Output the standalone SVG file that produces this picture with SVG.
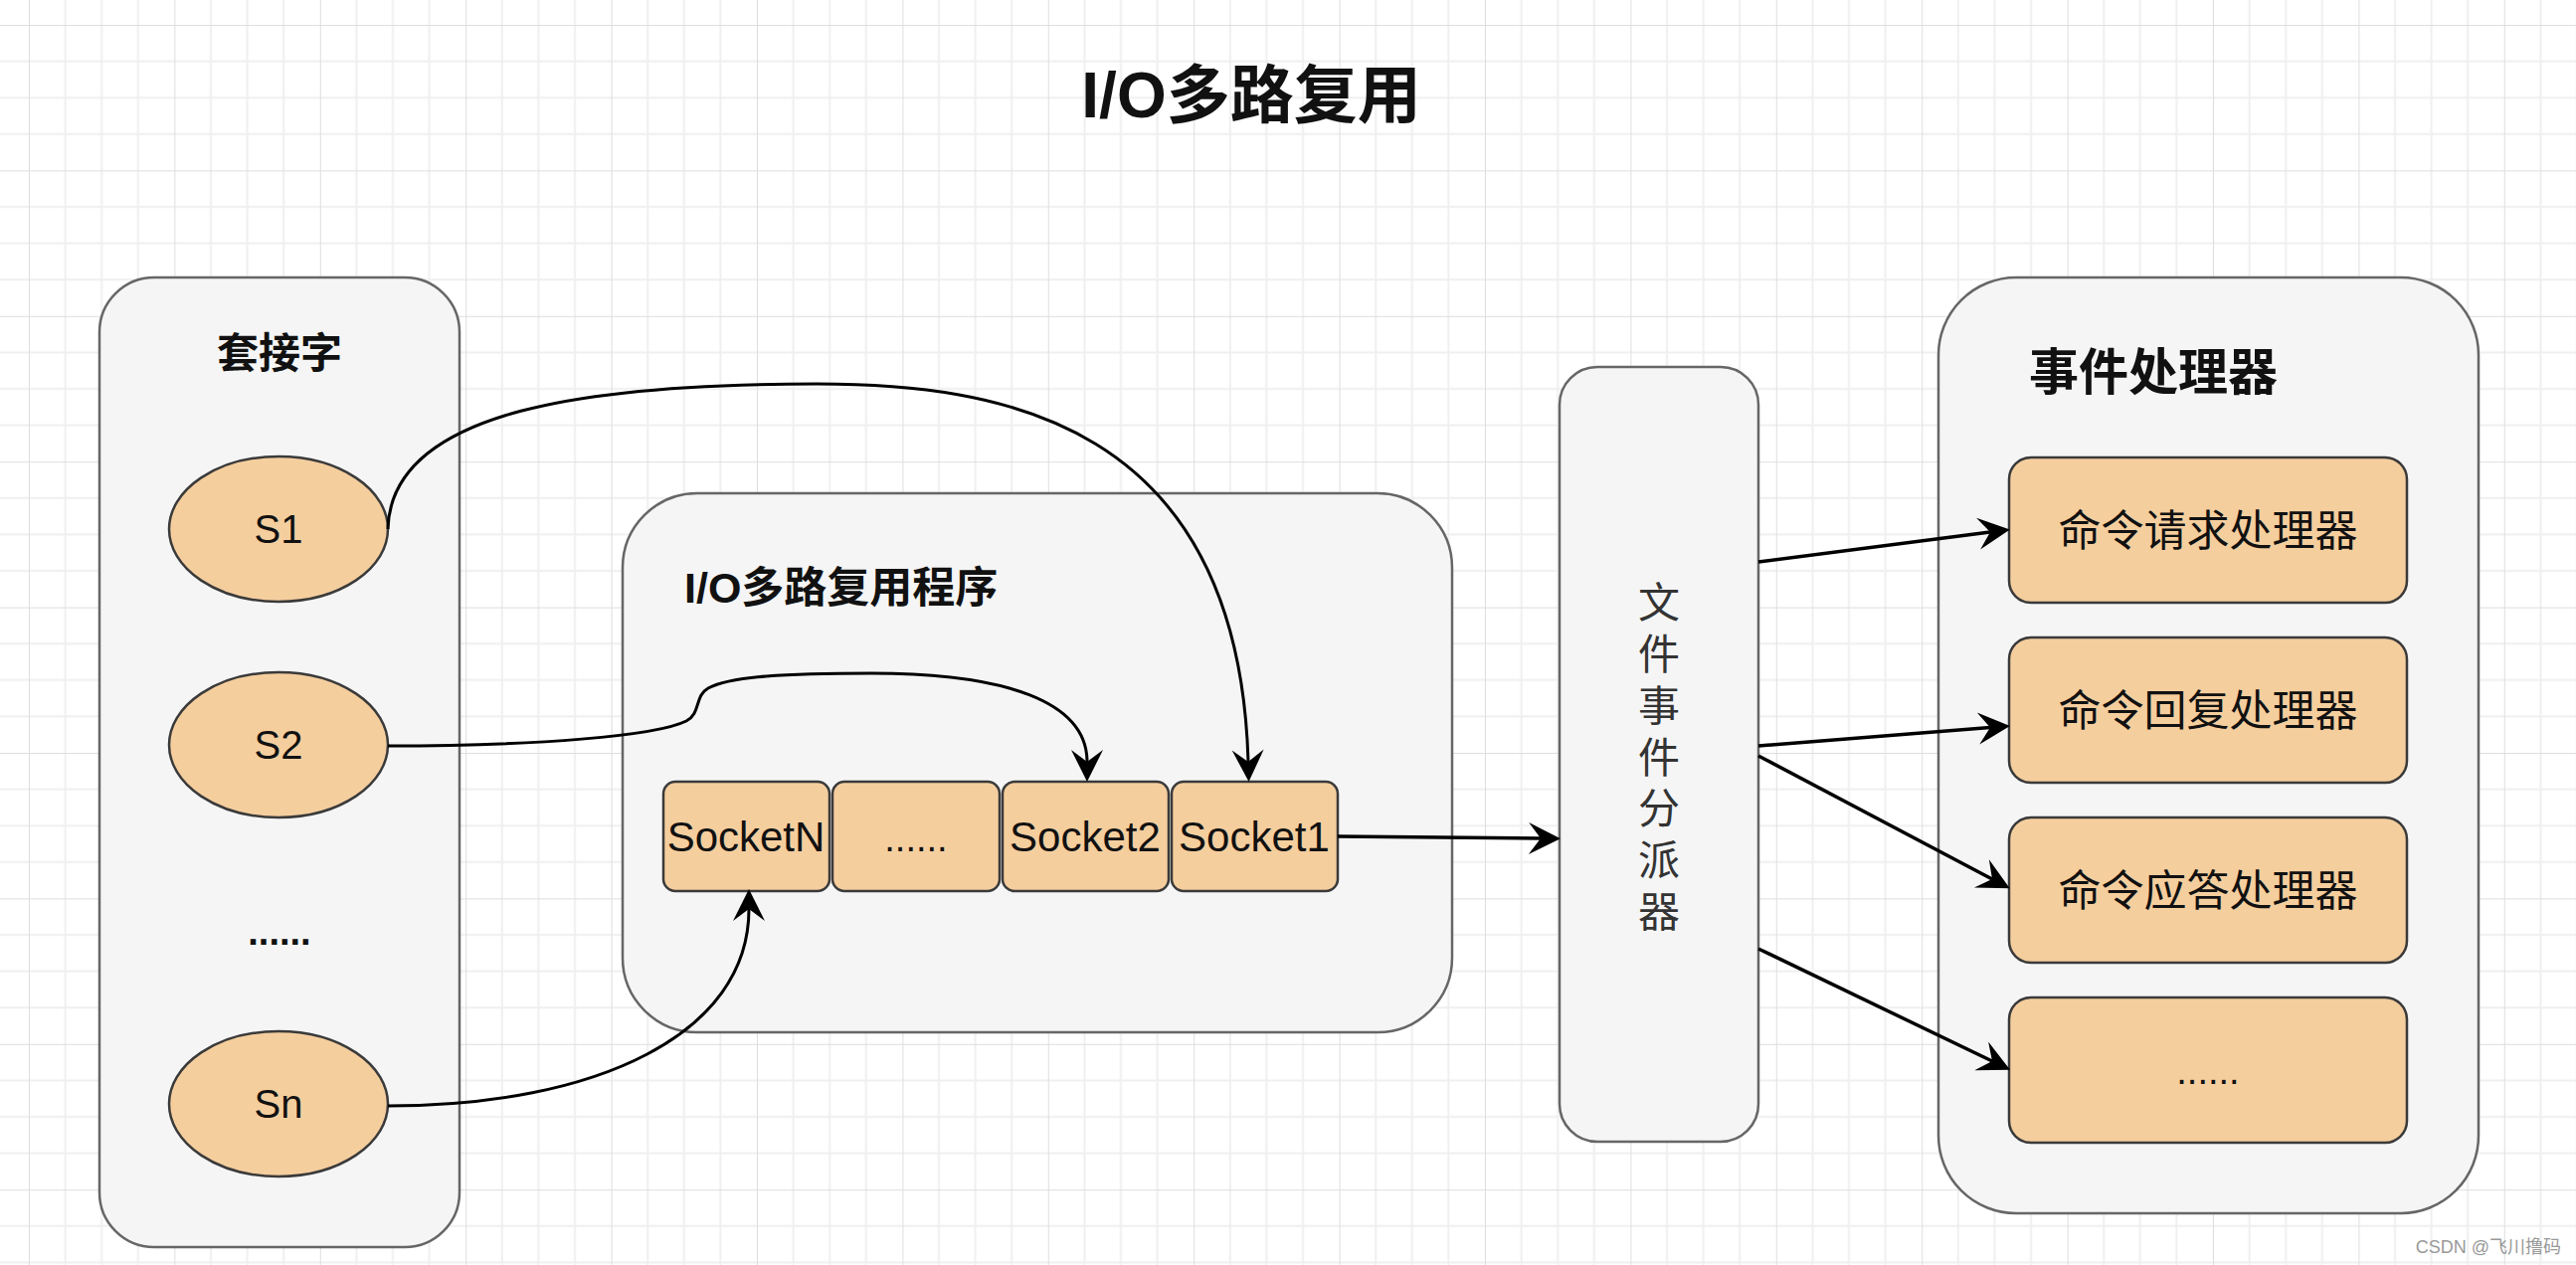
<svg xmlns="http://www.w3.org/2000/svg" width="2590" height="1272" viewBox="0 0 2590 1272">
<style>
.cont{fill:#f5f5f5;stroke:#666;stroke-width:2.5}
.peach{fill:#f5ce9e;stroke:#3a3a3a;stroke-width:2.5}
.t{font-family:"Liberation Sans","Noto Sans CJK SC",sans-serif;fill:#111}
.b{font-weight:bold}
.c{text-anchor:middle}
.edge{fill:none;stroke:#000;stroke-width:3}
.edge2{fill:none;stroke:#000;stroke-width:3.5}
</style>
<defs>
<pattern id="grid" patternUnits="userSpaceOnUse" x="29" y="25" width="146.4" height="146.4">
<path d="M36.6 0V146.4M73.2 0V146.4M109.8 0V146.4M0 36.6H146.4M0 73.2H146.4M0 109.8H146.4" stroke="#efefef" stroke-width="2"/>
<path d="M0 0V146.4M0 0H146.4" stroke="#dedede" stroke-width="2"/>
</pattern>
<marker id="arr" markerUnits="userSpaceOnUse" markerWidth="34" markerHeight="34" viewBox="0 0 34 34" refX="13" refY="17" orient="auto">
<path d="M1 1L33 17L1 33L13 17Z" fill="#000"/>
</marker>
</defs>
<rect width="2590" height="1272" fill="#fff"/>
<rect width="2590" height="1272" fill="url(#grid)"/>

<text class="t b c" x="1258" y="118" font-size="64">I/O多路复用</text>

<g id="sockets-group">
<rect class="cont" x="100" y="279" width="362" height="975" rx="55"/>
<text class="t b c" x="281" y="370" font-size="42">套接字</text>
</g>
<g id="s1"><ellipse class="peach" cx="280" cy="532" rx="110" ry="73"/><text class="t c" x="280" y="546" font-size="40">S1</text></g>
<g id="s2"><ellipse class="peach" cx="280" cy="749" rx="110" ry="73"/><text class="t c" x="280" y="763" font-size="40">S2</text></g>
<g id="sdots"><text class="t b c" x="281" y="950" font-size="38">......</text></g>
<g id="sn"><ellipse class="peach" cx="280" cy="1110" rx="110" ry="73"/><text class="t c" x="280" y="1124" font-size="40">Sn</text></g>

<g id="mux">
<rect class="cont" x="626" y="496" width="834" height="542" rx="75"/>
<text class="t b" x="688" y="606" font-size="43">I/O多路复用程序</text>
</g>
<g id="socketN"><rect class="peach" x="667" y="786" width="167" height="110" rx="12"/><text class="t c" x="750" y="856" font-size="42">SocketN</text></g>
<g id="socketDots"><rect class="peach" x="837" y="786" width="168" height="110" rx="12"/><text class="t c" x="921" y="856" font-size="38">......</text></g>
<g id="socket2"><rect class="peach" x="1008" y="786" width="167" height="110" rx="12"/><text class="t c" x="1091" y="856" font-size="42">Socket2</text></g>
<g id="socket1"><rect class="peach" x="1178" y="786" width="167" height="110" rx="12"/><text class="t c" x="1261" y="856" font-size="42">Socket1</text></g>

<g id="dispatcher">
<rect class="cont" x="1568" y="369" width="200" height="779" rx="38"/>
<g class="t c" font-size="42" style="fill:#333">
<text x="1668" y="621">文</text>
<text x="1668" y="673">件</text>
<text x="1668" y="725">事</text>
<text x="1668" y="777">件</text>
<text x="1668" y="828">分</text>
<text x="1668" y="880">派</text>
<text x="1668" y="932">器</text>
</g>
</g>

<g id="handlers">
<rect class="cont" x="1949" y="279" width="543" height="941" rx="78"/>
<text class="t b c" x="2165" y="392" font-size="50">事件处理器</text>
</g>
<g id="h1"><rect class="peach" x="2020" y="460" width="400" height="146" rx="22"/><text class="t c" x="2220" y="549" font-size="43">命令请求处理器</text></g>
<g id="h2"><rect class="peach" x="2020" y="641" width="400" height="146" rx="22"/><text class="t c" x="2220" y="730" font-size="43">命令回复处理器</text></g>
<g id="h3"><rect class="peach" x="2020" y="822" width="400" height="146" rx="22"/><text class="t c" x="2220" y="911" font-size="43">命令应答处理器</text></g>
<g id="h4"><rect class="peach" x="2020" y="1003" width="400" height="146" rx="22"/><text class="t c" x="2220" y="1090" font-size="38">......</text></g>

<g id="connectors">
<path class="edge" marker-end="url(#arr)" d="M390 532C393 410 600 386 821 386C1000 386 1245 420 1255 766"/>
<path class="edge" marker-end="url(#arr)" d="M390 750C540 750 660 740 690 725C705 717 698 700 712 692C735 680 790 677 876 677C1010 677 1093 705 1093 766"/>
<path class="edge" marker-end="url(#arr)" d="M390 1112C600 1112 753 1040 753 914"/>
<path class="edge2" marker-end="url(#arr)" d="M1345 841L1549 843"/>
<path class="edge2" marker-end="url(#arr)" d="M1768 565L2001 535"/>
<path class="edge2" marker-end="url(#arr)" d="M1768 750L2001 731.5"/>
<path class="edge2" marker-end="url(#arr)" d="M1768 760L2003 884"/>
<path class="edge2" marker-end="url(#arr)" d="M1768 954L2003 1067"/>
</g>

<text class="t" x="2575" y="1260" font-size="18" text-anchor="end" style="fill:#999">CSDN @飞川撸码</text>
</svg>
